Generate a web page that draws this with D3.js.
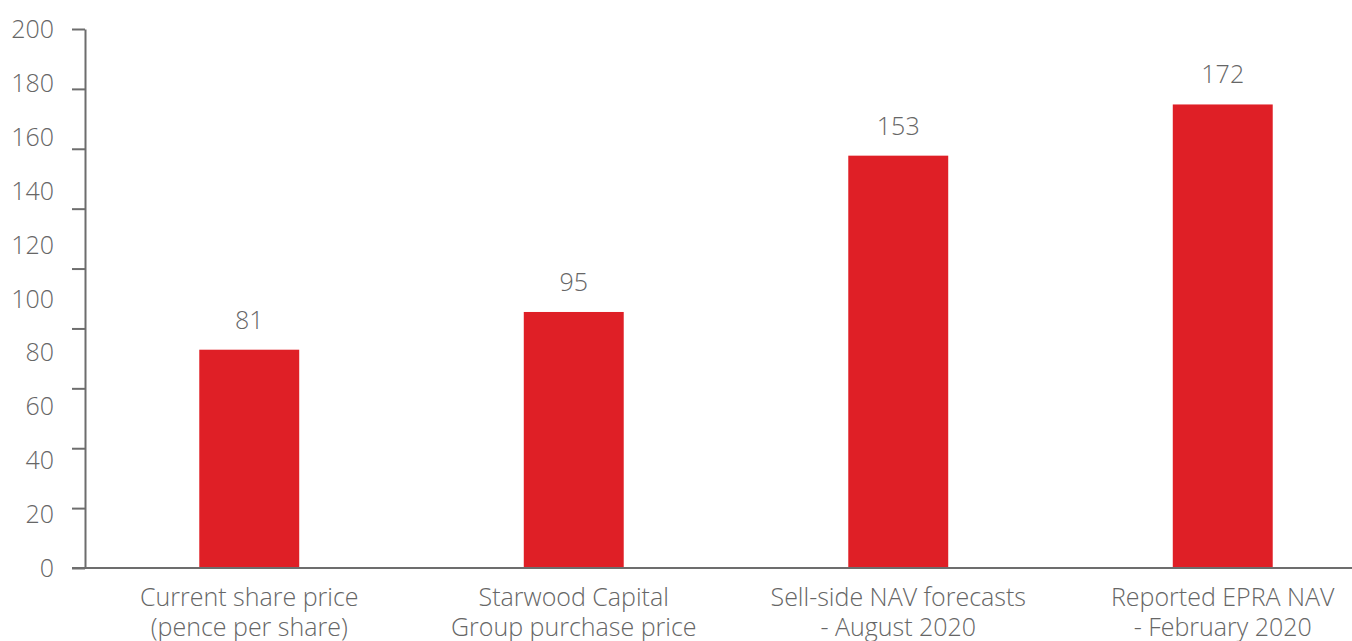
<!DOCTYPE html>
<html>
<head>
<meta charset="utf-8">
<script src="https://cdn.jsdelivr.net/npm/d3@7"></script>
<style>
  body { margin: 0; background: #fff; }
  svg text { font-family: "Open Sans", sans-serif; fill: #666; font-weight: 300; }
</style>
</head>
<body>
<div id="chart"></div>
<script>
var categories = [
  ["Current share price", "(pence per share)"],
  ["Starwood Capital", "Group purchase price"],
  ["Sell-side NAV forecasts", "- August 2020"],
  ["Reported EPRA NAV", "- February 2020"]
];
var values = [81, 95, 153, 172];
var yTickValues = [0, 20, 40, 60, 80, 100, 120, 140, 160, 180, 200];
// the source draws 10 tick marks while labelling 11 values
var tickMarkCount = 10;

var width = 1352, height = 641;
var axisX = 85, plotTop = 29, plotBottom = 568;

var svg = d3.select('#chart').append('svg')
  .attr('width', width).attr('height', height);

var y = d3.scaleLinear().domain([0, 200]).range([plotBottom, plotTop]);
var x = d3.scaleBand().domain(d3.range(categories.length))
  .range([87, 1385]).paddingInner(0.692).paddingOuter(0.346);

var tickPos = d3.scaleLinear().domain([0, tickMarkCount - 1]).range([plotBottom, plotTop]);

// bars
svg.append('g').selectAll('rect')
  .data(values).enter().append('rect')
  .attr('x', (d, i) => x(i))
  .attr('width', x.bandwidth())
  .attr('y', d => y(d))
  .attr('height', d => y(0) - y(d))
  .attr('fill', '#df1f26');

// value labels
svg.append('g').selectAll('text')
  .data(values).enter().append('text')
  .attr('x', (d, i) => x(i) + x.bandwidth() / 2)
  .attr('y', d => y(d) - 21)
  .attr('text-anchor', 'middle')
  .style('font-size', '25px')
  .text(d => d);

// y tick labels
svg.append('g').selectAll('text')
  .data(yTickValues).enter().append('text')
  .attr('x', 54)
  .attr('y', d => y(d) + 9)
  .attr('text-anchor', 'end')
  .style('font-size', '25px')
  .text(d => d);

// y axis line + tick marks
var yAxis = d3.axisLeft(tickPos).tickValues(d3.range(tickMarkCount))
  .tickSize(13).tickSizeOuter(0).tickFormat('');
var gy = svg.append('g').attr('transform', 'translate(' + axisX + ',0)').call(yAxis);
gy.selectAll('path, line').attr('stroke', '#6d6d6d').attr('stroke-width', 2);

// x axis line
svg.append('line')
  .attr('x1', 72).attr('x2', width)
  .attr('y1', plotBottom).attr('y2', plotBottom)
  .attr('stroke', '#6d6d6d').attr('stroke-width', 2);

// category labels
var cat = svg.append('g').selectAll('text')
  .data(categories).enter().append('text')
  .attr('text-anchor', 'middle')
  .style('font-size', '25px');
cat.selectAll('tspan')
  .data((d, i) => d.map(s => ({ s: s, i: i })))
  .enter().append('tspan')
  .attr('x', d => x(d.i) + x.bandwidth() / 2)
  .attr('y', (d, j) => 606 + j * 30)
  .text(d => d.s);
</script>
</body>
</html>
